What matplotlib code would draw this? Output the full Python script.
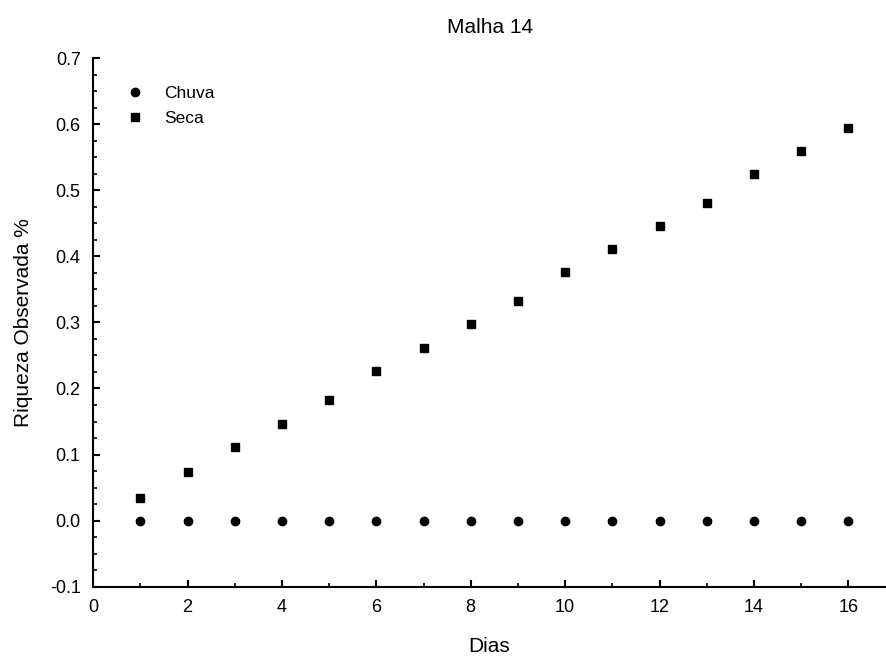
import matplotlib
matplotlib.use('Agg')
import matplotlib.pyplot as plt
from matplotlib.ticker import MultipleLocator

plt.rcParams['font.family'] = ['Liberation Sans', 'DejaVu Sans']

dias = list(range(1, 17))
chuva = [0.0] * 16
seca = [0.035, 0.073, 0.112, 0.147, 0.183, 0.227, 0.262, 0.297,
        0.332, 0.376, 0.411, 0.446, 0.481, 0.524, 0.559, 0.594]

fig = plt.figure(figsize=(8.87, 6.6), dpi=100)
ax = fig.add_axes([0.105, 0.111, 0.894, 0.801])

ax.plot(dias, chuva, 'o', color='black', ms=6, label='Chuva')
ax.plot(dias, seca, 's', color='black', ms=5.5, label='Seca')

ax.set_xlim(0, 16.8)
ax.set_ylim(-0.1, 0.7)
ax.xaxis.set_major_locator(MultipleLocator(2))
ax.xaxis.set_minor_locator(MultipleLocator(1))
ax.yaxis.set_major_locator(MultipleLocator(0.1))
ax.yaxis.set_minor_locator(MultipleLocator(0.025))
ax.yaxis.set_major_formatter(plt.FuncFormatter(lambda v, p: '%.1f' % v))

for s in ['top', 'right']:
    ax.spines[s].set_visible(False)
for s in ['left', 'bottom']:
    ax.spines[s].set_linewidth(1.5)

ax.tick_params(which='major', direction='in', length=5, width=1.5, labelsize=13, pad=9)
ax.tick_params(which='minor', direction='in', length=3, width=1.2)

ax.set_title('Malha 14', fontsize=15, pad=18)
ax.set_xlabel('Dias', fontsize=15, labelpad=15)
ax.set_ylabel('Riqueza Observada %', fontsize=15, labelpad=12)

ax.legend(loc='upper left', frameon=False, fontsize=12.5, handletextpad=0.7,
          borderaxespad=0.3, bbox_to_anchor=(0.015, 0.97), labelspacing=0.55)

fig.savefig('out.png', dpi=100)
